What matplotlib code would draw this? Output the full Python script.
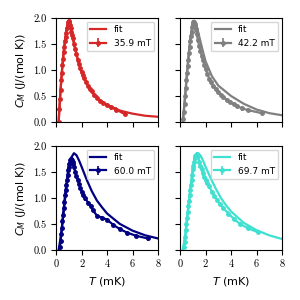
import numpy as np
import matplotlib
matplotlib.use("Agg")
import matplotlib.pyplot as plt

# measured specific heat, four fields
fields = ["35.9 mT", "42.2 mT", "60.0 mT", "69.7 mT"]
colors = ["#d62728", "gray", "navy", "turquoise"]

T_red = [0.2, 0.25, 0.3, 0.35, 0.4, 0.45, 0.5, 0.55, 0.6, 0.65, 0.7, 0.75, 0.8, 0.85, 0.9, 0.95, 1.0, 1.05, 1.1, 1.15, 1.2, 1.25,
         1.3, 1.4, 1.5, 1.6, 1.7, 1.8, 1.9, 2.0, 2.1, 2.2, 2.35, 2.5, 2.65, 2.8, 3.0, 3.2, 3.45, 3.7, 4.0, 4.3, 4.7, 5.4]
C_red = [0.0, 0.25, 0.45, 0.62, 0.8, 0.95, 1.1, 1.22, 1.35, 1.45, 1.55, 1.64, 1.72, 1.8, 1.86, 1.92, 1.95, 1.92, 1.86, 1.8, 1.74, 1.68,
         1.62, 1.5, 1.4, 1.3, 1.2, 1.12, 1.04, 0.96, 0.9, 0.84, 0.77, 0.7, 0.64, 0.59, 0.52, 0.47, 0.41, 0.37, 0.32, 0.28, 0.24, 0.15]

T_gray = [0.25, 0.3, 0.35, 0.4, 0.45, 0.5, 0.55, 0.6, 0.65, 0.7, 0.75, 0.8, 0.85, 0.9, 0.95, 1.0, 1.05, 1.1, 1.15, 1.2, 1.25, 1.3,
          1.4, 1.5, 1.6, 1.7, 1.8, 1.9, 2.0, 2.15, 2.3, 2.45, 2.6, 2.8, 3.0, 3.2, 3.4, 3.65, 3.9, 4.2, 4.5, 4.9, 5.3, 6.4]
C_gray = [0.05, 0.2, 0.35, 0.5, 0.65, 0.8, 0.95, 1.08, 1.2, 1.33, 1.45, 1.55, 1.65, 1.74, 1.82, 1.88, 1.93, 1.92, 1.88, 1.83, 1.78, 1.7,
          1.58, 1.46, 1.36, 1.27, 1.19, 1.1, 1.02, 0.92, 0.83, 0.76, 0.7, 0.63, 0.57, 0.52, 0.48, 0.43, 0.39, 0.34, 0.3, 0.26, 0.23, 0.17]

T_navy = [0.3, 0.35, 0.4, 0.45, 0.5, 0.55, 0.6, 0.65, 0.7, 0.75, 0.8, 0.85, 0.9, 0.95, 1.0, 1.05, 1.1, 1.15, 1.2, 1.25, 1.3, 1.35,
          1.4, 1.5, 1.6, 1.7, 1.8, 1.9, 2.0, 2.15, 2.3, 2.5, 2.7, 2.9, 3.2, 3.6, 4.0, 4.5, 5.0, 5.6, 6.3, 7.2]
C_navy = [0.05, 0.18, 0.3, 0.42, 0.55, 0.68, 0.8, 0.92, 1.05, 1.15, 1.25, 1.35, 1.45, 1.53, 1.6, 1.66, 1.72, 1.74, 1.75, 1.73, 1.7, 1.66,
          1.6, 1.5, 1.42, 1.35, 1.27, 1.2, 1.12, 1.05, 0.99, 0.91, 0.84, 0.76, 0.66, 0.62, 0.58, 0.48, 0.4, 0.33, 0.27, 0.22]

T_turq = [0.3, 0.35, 0.4, 0.45, 0.5, 0.55, 0.6, 0.65, 0.7, 0.75, 0.8, 0.85, 0.9, 0.95, 1.0, 1.05, 1.1, 1.15, 1.2, 1.25, 1.3, 1.35,
          1.4, 1.5, 1.6, 1.7, 1.8, 1.9, 2.0, 2.15, 2.3, 2.5, 2.7, 2.9, 3.1, 3.4, 3.8, 4.2, 4.7, 5.3, 6.1]
C_turq = [0.05, 0.15, 0.25, 0.38, 0.5, 0.61, 0.72, 0.84, 0.95, 1.05, 1.15, 1.25, 1.35, 1.45, 1.55, 1.62, 1.7, 1.76, 1.8, 1.83, 1.85, 1.84,
          1.8, 1.7, 1.62, 1.55, 1.47, 1.4, 1.35, 1.28, 1.22, 1.12, 1.04, 0.96, 0.88, 0.8, 0.7, 0.6, 0.5, 0.42, 0.34]

# fit curves
Tf_red = [0.2, 0.3, 0.4, 0.5, 0.6, 0.7, 0.8, 0.9, 1.0, 1.1, 1.2, 1.35, 1.5, 1.7, 2.0, 2.4, 2.8, 3.2, 3.6, 4.0, 5.0, 6.0, 7.0, 8.0]
Cf_red = [0.0, 0.4, 0.78, 1.1, 1.37, 1.58, 1.75, 1.88, 1.96, 1.9, 1.8, 1.6, 1.42, 1.2, 0.95, 0.74, 0.58, 0.47, 0.39, 0.33, 0.22, 0.16, 0.12, 0.1]

Tf_gray = [0.2, 0.4, 0.6, 0.8, 1.0, 1.1, 1.3, 1.5, 1.75, 2.0, 2.5, 3.0, 3.5, 4.0, 5.0, 6.0, 7.0, 8.0]
Cf_gray = [0.0, 0.5, 1.1, 1.6, 1.9, 1.95, 1.85, 1.65, 1.4, 1.17, 0.88, 0.7, 0.6, 0.5, 0.35, 0.24, 0.17, 0.13]

Tf_navy = [0.2, 0.4, 0.6, 0.8, 1.0, 1.2, 1.4, 1.6, 1.8, 2.0, 2.4, 2.8, 3.2, 3.6, 4.0, 5.0, 6.0, 7.0, 8.0]
Cf_navy = [0.0, 0.3, 0.75, 1.2, 1.55, 1.78, 1.86, 1.82, 1.72, 1.6, 1.35, 1.13, 0.95, 0.82, 0.7, 0.5, 0.37, 0.28, 0.22]

Tf_turq = [0.2, 0.4, 0.6, 0.8, 1.0, 1.2, 1.4, 1.6, 1.8, 2.0, 2.4, 2.8, 3.2, 3.6, 4.0, 5.0, 6.0, 7.0, 8.0]
Cf_turq = [0.0, 0.25, 0.7, 1.15, 1.5, 1.75, 1.85, 1.82, 1.72, 1.6, 1.38, 1.18, 1.0, 0.86, 0.74, 0.52, 0.38, 0.28, 0.21]

data = [(T_red, C_red), (T_gray, C_gray), (T_navy, C_navy), (T_turq, C_turq)]
fits = [(Tf_red, Cf_red), (Tf_gray, Cf_gray), (Tf_navy, Cf_navy), (Tf_turq, Cf_turq)]

xticks = [0, 2, 4, 6, 8]
yticks = [0.0, 0.5, 1.0, 1.5, 2.0]

fig, axes = plt.subplots(2, 2, figsize=(3, 3), dpi=100, sharex=True, sharey=True)
fig.subplots_adjust(left=0.187, right=0.94, bottom=0.167, top=0.94, wspace=0.216, hspace=0.23)

for ax, (T, C), (Tf, Cf), col, lab in zip(axes.flat, data, fits, colors, fields):
    ax.plot(Tf, Cf, color=col, lw=1.6, label="fit")
    ax.errorbar(T, C, yerr=0.04, color=col, marker="o", ms=2.5, lw=1.6, elinewidth=1.2, label=lab)
    ax.set_xlim(0, 8)
    ax.set_ylim(0, 2)
    ax.set_xticks(xticks)
    ax.set_yticks(yticks)
    ax.set_xticklabels([str(t) for t in xticks], fontfamily="cmr10", fontsize=7.5)
    ax.set_yticklabels(["%.1f" % t for t in yticks], fontfamily="cmr10", fontsize=7.5)
    ax.tick_params(length=3.5, width=0.8)
    ax.legend(loc="upper right", fontsize=6.5, handlelength=1.8, borderaxespad=0.4)
    ax.label_outer()

for ax in axes[:, 0]:
    ax.set_ylabel(r"$C_M$ (J/(mol K))", fontsize=8)
for ax in axes[1, :]:
    ax.set_xlabel(r"$T$ (mK)", fontsize=8)

plt.savefig("out.png", dpi=100)
